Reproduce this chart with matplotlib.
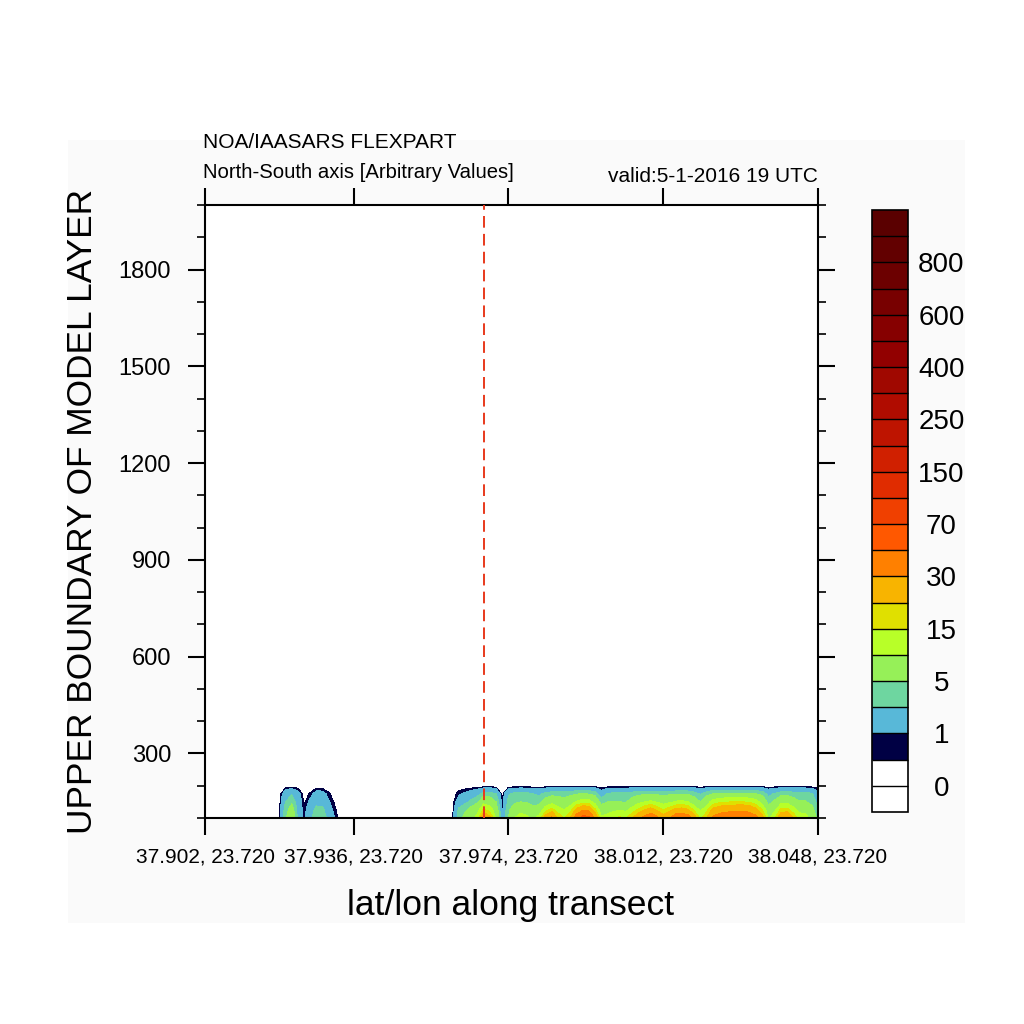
import matplotlib
matplotlib.use("Agg")
import matplotlib.pyplot as plt
import numpy as np
from matplotlib.patches import Rectangle
from matplotlib.ticker import FixedLocator

plt.rcParams['font.family'] = ['Liberation Sans', 'DejaVu Sans']

# ---------------- data ----------------
# transect point index (0..99) and model layer heights
n_points = 100
heights = [100, 125, 150, 175, 200]

def col(d):
    out = [0.0] * n_points
    for k, v in d.items():
        out[k] = v
    return out

# concentrations per transect point at each height
conc_100 = col({12: 0.5, 13: 4.5, 14: 8, 15: 2.4, 16: 0.6, 17: 2.5, 18: 4.5, 19: 4.2, 20: 2.2, 21: 0.9,
                40: 0.45, 41: 4, 42: 6, 43: 8, 44: 12, 45: 30, 46: 22, 47: 9, 48: 0.7,
                49: 5, 50: 10, 51: 13, 52: 11, 53: 9, 54: 12, 55: 24, 56: 32, 57: 20, 58: 15,
                59: 20, 60: 38, 61: 60, 62: 55, 63: 28, 64: 11, 65: 12, 66: 15, 67: 16, 68: 15,
                69: 20, 70: 26, 71: 34, 72: 40, 73: 33, 74: 24, 75: 30, 76: 38, 77: 40, 78: 36,
                79: 24, 80: 14, 81: 20, 82: 32, 83: 36, 84: 38, 85: 38, 86: 42, 87: 42, 88: 38,
                89: 34, 90: 24, 91: 9, 92: 14, 93: 28, 94: 30, 95: 20, 96: 13, 97: 12, 98: 8, 99: 4})
conc_125 = col({12: 0.3, 13: 3.8, 14: 6.5, 15: 2.2, 16: 0.5, 17: 2.0, 18: 3.6, 19: 3.4, 20: 1.7, 21: 0.6,
                40: 0.3, 41: 3.4, 42: 4.5, 43: 6, 44: 8, 45: 16, 46: 13, 47: 7, 48: 0.6,
                49: 4.5, 50: 7, 51: 8, 52: 7.5, 53: 6, 54: 7, 55: 13, 56: 17, 57: 12, 58: 10,
                59: 13, 60: 22, 61: 28, 62: 27, 63: 16, 64: 7, 65: 8, 66: 9, 67: 9.5, 68: 9,
                69: 12, 70: 16, 71: 20, 72: 23, 73: 19, 74: 15, 75: 18, 76: 22, 77: 23, 78: 21,
                79: 14, 80: 9, 81: 13, 82: 22, 83: 25, 84: 27, 85: 27.5, 86: 28, 87: 28, 88: 26,
                89: 22, 90: 15, 91: 6.5, 92: 9, 93: 16, 94: 17, 95: 12, 96: 8.5, 97: 8, 98: 6, 99: 3.2})
conc_150 = col({12: 0.15, 13: 3.0, 14: 4.5, 15: 2.0, 16: 0.35, 17: 1.3, 18: 2.4, 19: 2.3, 20: 1.1, 21: 0.35,
                40: 0.2, 41: 1.8, 42: 2.5, 43: 3.5, 44: 4.5, 45: 8, 46: 7, 47: 5, 48: 0.4,
                49: 3.5, 50: 4.5, 51: 5, 52: 4.8, 53: 4, 54: 4, 55: 6.5, 56: 8, 57: 7, 58: 6,
                59: 7.5, 60: 10.5, 61: 12.4, 62: 12, 63: 8, 64: 4, 65: 5, 66: 5, 67: 5, 68: 4.8,
                69: 6.5, 70: 8.5, 71: 10, 72: 11, 73: 9.5, 74: 8, 75: 9, 76: 10.5, 77: 11, 78: 10,
                79: 7, 80: 5, 81: 7.5, 82: 12, 83: 13.5, 84: 14.5, 85: 15, 86: 15, 87: 15, 88: 14,
                89: 12, 90: 8, 91: 4, 92: 5.5, 93: 8, 94: 8.5, 95: 6.5, 96: 5.2, 97: 5.2, 98: 4.2, 99: 2.4})
conc_175 = col({12: 0.0, 13: 2.0, 14: 2.8, 15: 1.6, 16: 0.1, 17: 0.6, 18: 1.6, 19: 1.5, 20: 0.6, 21: 0.1,
                40: 0.1, 41: 0.8, 42: 1.2, 43: 1.7, 44: 2.3, 45: 3.8, 46: 3.8, 47: 3, 48: 0.1,
                49: 2.8, 50: 3.5, 51: 3.6, 52: 3.5, 53: 3.0, 54: 2.6, 55: 3.5, 56: 4, 57: 4, 58: 4,
                59: 4.2, 60: 4.8, 61: 5, 62: 4.8, 63: 4, 64: 1.8, 65: 3.2, 66: 3.4, 67: 3.4, 68: 3.4,
                69: 3.8, 70: 4.2, 71: 4.5, 72: 4.6, 73: 4.4, 74: 4.2, 75: 4.4, 76: 4.6, 77: 4.8, 78: 4.6,
                79: 3.8, 80: 2.8, 81: 4, 82: 5, 83: 5.2, 84: 5.4, 85: 5.5, 86: 5.5, 87: 5.4, 88: 5.2,
                89: 5, 90: 4.2, 91: 2.4, 92: 3.2, 93: 4, 94: 4.2, 95: 3.8, 96: 3.6, 97: 3.6, 98: 3.2, 99: 1.6})
conc_200 = [0.0] * n_points

levels = [0, 0.5, 1, 3, 5, 10, 15, 20, 30, 50, 70, 100, 150, 200, 250, 300,
          400, 500, 600, 700, 800, 900]
colors = ['#ffffff', '#ffffff', '#000044', '#58b8d8', '#6ed6a0', '#96f058', '#b8ff28',
          '#e0e000', '#f8b400', '#ff8000', '#ff5800', '#f04000', '#e02c00', '#d02000',
          '#be1400', '#b00c00', '#a00800', '#920000', '#860000', '#780000', '#6c0000',
          '#620000', '#5a0000']
cbar_ticks = [0, 1, 5, 15, 30, 70, 150, 250, 400, 600, 800]

xtick_pos = [0, 24, 49, 74, 99]
xtick_labels = ['37.902, 23.720', '37.936, 23.720', '37.974, 23.720',
                '38.012, 23.720', '38.048, 23.720']
marker_index = 45

# ---------------- figure ----------------
W = 1024
fig = plt.figure(figsize=(10.24, 10.24), dpi=100)
fig.patch.set_facecolor('white')

def fx(px):
    return px / W

def fy(py):
    return 1 - py / W

fig.add_artist(Rectangle((fx(68), fy(923)), fx(965) - fx(68), fy(140) - fy(923),
                         transform=fig.transFigure, facecolor='#fafafa',
                         edgecolor='none', zorder=-10))

ax = fig.add_axes([fx(205), fy(818), fx(818) - fx(205), fy(205) - fy(818)])

x = np.arange(n_points)
Z = np.array([conc_100, conc_125, conc_150, conc_175, conc_200])
cs = ax.contourf(x, heights, Z, levels=levels, colors=colors, extend='both')
ax.axvline(marker_index, color='#e8391c', lw=1.4, linestyle=(0, (6, 3.2)), zorder=5)

ax.set_xlim(0, 99)
ax.set_ylim(100, 2000)
ax.set_xticks(xtick_pos)
ax.set_xticklabels(xtick_labels)
ax.set_yticks([300, 600, 900, 1200, 1500, 1800])
ax.yaxis.set_minor_locator(FixedLocator(np.arange(100, 2001, 100)))
ax.tick_params(axis='both', which='major', direction='out', length=12.5, width=1.5,
               top=True, right=True)
ax.tick_params(axis='x', which='major', labelsize=15, pad=9)
ax.tick_params(axis='y', which='major', labelsize=17, pad=12)
ax.tick_params(axis='y', which='minor', direction='out', length=6, width=1.2,
               left=True, right=True)
ax.tick_params(axis='x', which='minor', bottom=False, top=False)
for s in ax.spines.values():
    s.set_linewidth(1.5)

fig.text(fx(83), fy(511), 'UPPER BOUNDARY OF MODEL LAYER', rotation=90,
         ha='center', va='center', fontsize=25.4)
fig.text(fx(511), fy(905), 'lat/lon along transect', ha='center', va='center', fontsize=25.5)
fig.text(fx(203), fy(142), 'NOA/IAASARS FLEXPART', ha='left', va='center', fontsize=15)
fig.text(fx(203), fy(173), 'North-South axis [Arbitrary Values]', ha='left', va='center', fontsize=14.6)
fig.text(fx(818), fy(177), 'valid:5-1-2016 19 UTC', ha='right', va='center', fontsize=15)

# ---------------- colorbar ----------------
cax = fig.add_axes([fx(872), fy(812), fx(908) - fx(872), fy(210) - fy(812)])
cbar = fig.colorbar(cs, cax=cax, extend='both', extendrect=True,
                    extendfrac=1.0 / 21, drawedges=True)
cbar.set_ticks(cbar_ticks)
cbar.set_ticklabels([str(t) for t in cbar_ticks])
cbar.ax.tick_params(length=0, labelsize=20, pad=24)
for lab in cbar.ax.get_yticklabels():
    lab.set_ha('center')
cbar.outline.set_linewidth(1.2)
cbar.dividers.set_linewidth(1.0)
cbar.dividers.set_color('black')

fig.savefig('out.png', dpi=100)
